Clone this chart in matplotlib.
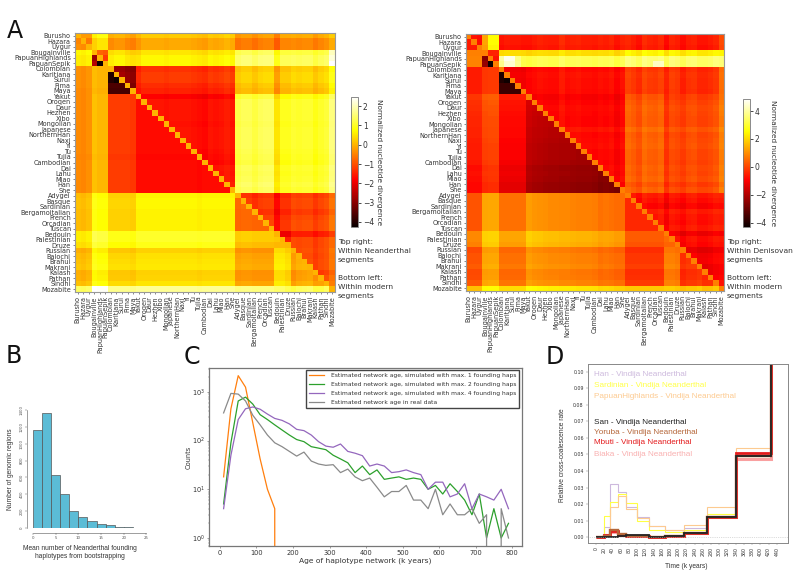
import numpy as np
import matplotlib
matplotlib.use('Agg')
import matplotlib.pyplot as plt

W, H = 800, 579

pops = ['Burusho', 'Hazara', 'Uygur', 'Bougainville', 'PapuanHighlands', 'PapuanSepik',
        'Colombian', 'Karitiana', 'Surui', 'Pima', 'Maya', 'Yakut', 'Oroqen', 'Daur', 'Hezhen',
        'Xibo', 'Mongolian', 'Japanese', 'NorthernHan', 'Naxi', 'Yi', 'Tu', 'Tujia', 'Cambodian',
        'Dai', 'Lahu', 'Miao', 'Han', 'She', 'Adygei', 'Basque', 'Sardinian', 'Bergamoitalian',
        'French', 'Orcadian', 'Tuscan', 'Bedouin', 'Palestinian', 'Druze', 'Russian', 'Balochi',
        'Brahui', 'Makrani', 'Kalash', 'Pathan', 'Sindhi', 'Mozabite']
group_sizes = [3, 3, 5, 18, 7, 3, 7, 1]

nean_upper = [[-0.4, 0.5, -0.3, -0.1, -0.5, -0.4, -0.4, -0.2],
              [0, -1.0, 0.5, 0.5, 1.4, 1.2, 1.2, 1.9],
              [0, 0, -2.9, -1.4, 0.2, 0.1, 0.2, 0.6],
              [0, 0, 0, -1.8, 1.2, 0.8, 0.9, 1.3],
              [0, 0, 0, 0, -1.3, -1.4, -1.2, -0.9],
              [0, 0, 0, 0, 0, -1.6, -1.2, -1.0],
              [0, 0, 0, 0, 0, 0, -1.2, -0.9],
              [0, 0, 0, 0, 0, 0, 0, 0]]
nean_lower = [[-0.4, 0, 0, 0, 0, 0, 0, 0],
              [0.6, -2.7, 0, 0, 0, 0, 0, 0],
              [-0.35, 0.0, -3.6, 0, 0, 0, 0, 0],
              [-0.45, 0.0, -1.25, -1.8, 0, 0, 0, 0],
              [0.1, 0.75, 0.3, 0.6, -0.8, 0, 0, 0],
              [0.45, 1.05, 0.75, 0.85, 0.1, -0.1, 0, 0],
              [0.1, 0.75, 0.35, 0.4, -0.2, 0.4, -0.1, 0],
              [1.4, 2.4, 1.7, 1.7, 1.6, 1.3, 1.35, 0]]
nean_pop_upper = [0.25, -0.1, -0.1, -0.1, 0.1, 0.1, 0, 0.1, 0.1, -0.05, -0.15, -0.1, 0.1, 0.1, 0.1,
                  0.1, 0.05, 0.1, 0.1, 0.1, 0.1, 0.05, 0, -0.05, 0.1, 0.05, 0.1, 0.2, 0.1, -0.05,
                  0.05, 0.05, -0.1, 0.05, 0.1, 0.1, -0.4, 0.05, 0.05, 0.1, 0.05, 0.1, 0.1, -0.1,
                  0.05, 0.15, 0.2]
nean_pop_lower = [0, -0.05, 0.05, 0.1, 0, 0, 0, 0, 0, 0, -0.05, 0.05, 0.05, 0.05, 0.05, 0.05, 0.05,
                  0.05, 0.05, 0.05, 0.05, 0.05, 0, 0.05, 0.05, 0.05, 0.05, 0.05, 0.05, 0, 0.05,
                  0.05, 0, 0, 0, 0, 0.15, 0.15, 0, -0.15, 0, 0.05, 0.1, -0.15, -0.12, 0.05, 0]
nean_diag = 0.0
nean_cells = {('Bougainville', 'PapuanHighlands'): -0.8, ('Bougainville', 'PapuanSepik'): -0.9,
              ('PapuanHighlands', 'PapuanSepik'): -1.2, ('PapuanHighlands', 'Bougainville'): -2.8,
              ('PapuanSepik', 'Bougainville'): -2.5, ('PapuanSepik', 'PapuanHighlands'): -4.2,
              ('Karitiana', 'Colombian'): -4.0, ('Surui', 'Colombian'): -4.0, ('Surui', 'Karitiana'): -4.2,
              ('PapuanSepik', 'Mozabite'): 2.45}

deni_upper = [[-0.7, 2.0, -0.7, -0.6, -0.6, -0.6, -0.6, -0.2],
              [0, -1.0, 2.7, 2.7, 3.0, 3.0, 3.0, 2.8],
              [0, 0, -1.2, -0.9, -0.3, -0.3, -0.4, 0.2],
              [0, 0, 0, -1.0, 0.2, -0.1, 0.0, 0.4],
              [0, 0, 0, 0, -0.9, -0.9, -0.8, -1.0],
              [0, 0, 0, 0, 0, -0.9, -0.9, -1.1],
              [0, 0, 0, 0, 0, 0, -1.1, -1.2],
              [0, 0, 0, 0, 0, 0, 0, 0]]
deni_lower = [[-0.6, 0, 0, 0, 0, 0, 0, 0],
              [0.8, -2.7, 0, 0, 0, 0, 0, 0],
              [-0.6, -0.2, -3.6, 0, 0, 0, 0, 0],
              [-0.6, -0.1, -1.0, -2.2, 0, 0, 0, 0],
              [0.2, 1.3, 0.6, 0.8, -0.4, 0, 0, 0],
              [0.8, 1.8, 1.2, 1.4, 0.2, 0.3, 0, 0],
              [0.2, 1.3, 0.6, 0.8, -0.2, 0.7, -0.2, 0],
              [1.7, 2.5, 2.1, 2.2, 1.8, 1.8, 1.8, 0]]
deni_pop_upper = [0, 0, -0.1, -0.7, 0.5, 0.5, 0, 0.1, 0.05, 0.05, 0, -0.1, 0, 0.1, 0.05, 0, 0, 0.25,
                  0.05, 0.1, 0.15, 0.05, 0.05, 0, 0.1, 0.05, 0.15, -0.1, 0.1, 0.2, 0.05, -0.15, 0.25, 0.1,
                  0.05, 0.2, -0.25, 0.15, 0.05, -0.2, 0.05, 0.1, -0.1, -0.1, 0, 0.15, 0.3]
deni_pop_lower = [0, 0, 0, 0, 0.05, 0.05, 0, 0, 0, 0, 0, 0.4, 0.3, 0.25, 0.2, 0.15, 0.15, 0.1, 0.1,
                  0.05, 0, 0, 0, -0.05, -0.2, -0.15, -0.2, -0.3, -0.3, 0, 0, 0, 0, 0, 0, 0, 0.1,
                  0.1, 0, -0.15, 0, 0, 0.1, -0.15, -0.12, 0.05, 0]
deni_diag = 0.8
deni_cells = {('Bougainville', 'PapuanHighlands'): -0.5, ('Bougainville', 'PapuanSepik'): -0.5,
              ('PapuanHighlands', 'PapuanSepik'): -0.7, ('PapuanHighlands', 'Bougainville'): -2.6,
              ('PapuanSepik', 'Bougainville'): -2.4, ('PapuanSepik', 'PapuanHighlands'): -4.2,
              ('Karitiana', 'Colombian'): -4.0, ('Surui', 'Colombian'): -4.0, ('Surui', 'Karitiana'): -4.2,
              ('PapuanHighlands', 'Colombian'): 4.0, ('PapuanHighlands', 'Karitiana'): 4.7,
              ('PapuanHighlands', 'Surui'): 4.6, ('PapuanHighlands', 'Pima'): 3.7,
              ('PapuanSepik', 'Colombian'): 3.8, ('PapuanSepik', 'Karitiana'): 4.4,
              ('PapuanSepik', 'Surui'): 4.4, ('PapuanSepik', 'Pima'): 3.8,
              ('PapuanSepik', 'Orcadian'): 4.3, ('PapuanSepik', 'Tuscan'): 4.3}

# panel B
hist_edges = [0, 2, 4, 6, 8, 10, 12, 14, 16, 18, 20, 22, 24, 26]
hist_counts = [1163, 1368, 625, 400, 198, 130, 83, 51, 40, 16, 8, 4, 2]

# panel C
age_mid = [10, 30, 50, 70, 90, 110, 130, 150, 170, 190, 210, 230, 250, 270, 290, 310, 330, 350, 370, 390,
           410, 430, 450, 470, 490, 510, 530, 550, 570, 590, 610, 630, 650, 670, 690, 710, 730, 750, 770, 790]
sim1_counts = [18, 450, 2150, 1250, 230, 42, 10, 4] + [0] * 32
sim2_counts = [5, 90, 650, 780, 560, 340, 270, 210, 165, 130, 105, 95, 75, 70, 65, 50, 42, 35, 22, 30,
               20, 25, 16, 17, 18, 16, 17, 16, 10, 12, 8, 13, 9, 6, 3, 8, 1, 4, 1, 2]
sim4_counts = [4, 50, 270, 450, 490, 440, 350, 285, 260, 220, 170, 160, 130, 95, 77, 73, 85, 60, 55, 49,
               30, 33, 30, 22, 23, 25, 22, 20, 10, 14, 14, 7, 8, 13, 4, 8, 7, 6, 10, 4]
real_counts = [370, 930, 900, 650, 330, 210, 130, 90, 75, 60, 48, 58, 38, 33, 31, 32, 22, 26, 18, 15,
               17, 11, 7, 9, 9, 12, 6, 6, 4, 10, 3, 5, 3, 3, 4, 2, 3, 0, 4, 1]

# panel D
time_edges = [0, 20, 33, 53, 74, 99, 130, 167, 213, 270, 340, 425]
han_rate = [0, 0.006, 0.032, 0.027, 0.018, 0.012, 0.0065, 0.004, 0.0055, 0.013, 0.050, 0.15]
sardinian_rate = [0, 0.013, 0.0215, 0.026, 0.0205, 0.010, 0.0045, 0.003, 0.0045, 0.014, 0.048, 0.15]
papuan_rate = [0, 0.002, 0.018, 0.025, 0.017, 0.0115, 0.0065, 0.0045, 0.007, 0.018, 0.054, 0.15]
san_rate = [0, 0, 0.0003, 0.0005, 0.0012, 0.0012, 0.0003, 0.0005, 0.0025, 0.012, 0.049, 0.15]
yoruba_rate = [0, 0.0005, 0.004, 0.002, 0.0008, 0.0005, 0.0003, 0.0005, 0.0025, 0.012, 0.049, 0.15]
mbuti_rate = [0, 0.001, 0.0035, 0.0015, 0.0005, 0.0005, 0.0003, 0.0005, 0.0025, 0.012, 0.051, 0.15]
biaka_rate = [0, 0.001, 0.003, 0.001, 0.0005, 0.0004, 0.0003, 0.0005, 0.0025, 0.012, 0.047, 0.15]

DARK = '#333333'


def axes_px(fig, left, top, right, bottom):
    return fig.add_axes([left / W, 1 - bottom / H, (right - left) / W, (bottom - top) / H])


def text_px(fig, x, y, s, **kw):
    kw.setdefault('va', 'center')
    return fig.text(x / W, 1 - y / H, s, **kw)


def build_matrix(upper, lower, pop_upper, pop_lower, diag, cells):
    groups = np.repeat(np.arange(len(group_sizes)), group_sizes)
    n = len(pops)
    m = np.zeros((n, n))
    for i in range(n):
        for j in range(n):
            if i == j:
                m[i, j] = diag
            elif i < j:
                m[i, j] = upper[groups[i]][groups[j]] + pop_upper[i] + pop_upper[j]
            else:
                m[i, j] = lower[groups[i]][groups[j]] + pop_lower[i] + pop_lower[j]
    for (a, b), v in cells.items():
        m[pops.index(a), pops.index(b)] = v
    return m


def plot_heatmap(fig, box, cbox, mat, vmin, vmax, cticks, label_x, note_x, kind):
    ax = axes_px(fig, *box)
    im = ax.imshow(mat, cmap='hot', vmin=vmin, vmax=vmax, aspect='auto', interpolation='nearest')
    ax.set_xticks(range(len(pops)))
    ax.set_yticks(range(len(pops)))
    ax.set_xticklabels(pops, rotation=90, fontsize=4.7, color=DARK)
    ax.set_yticklabels(pops, fontsize=4.7, color=DARK)
    ax.tick_params(length=1.5, width=0.4, pad=1.5, color=DARK)
    for s in ax.spines.values():
        s.set_color('#999999')
        s.set_linewidth(0.8)

    cax = axes_px(fig, *cbox)
    cb = fig.colorbar(im, cax=cax)
    cb.set_ticks(cticks)
    cb.ax.tick_params(labelsize=5.5, length=2, width=0.5, pad=1.5, labelcolor=DARK)
    cb.outline.set_linewidth(0.6)
    cb.outline.set_edgecolor('#777777')
    text_px(fig, label_x, (cbox[1] + cbox[3]) / 2, 'Normalized nucleotide divergence', rotation=270,
            ha='center', fontsize=5.3, color=DARK)

    for y, s in zip([242, 251, 260, 278, 287, 296],
                    ['Top right:', f'Within {kind}', 'segments', 'Bottom left:', 'Within modern', 'segments']):
        text_px(fig, note_x, y, s, fontsize=5.4, color=DARK)


def plot_hist(fig):
    ax = axes_px(fig, 33, 410, 151, 528)
    ax.bar(hist_edges[:-1], hist_counts, width=2, align='edge', color='#5bbcd6', edgecolor='#555555', linewidth=0.5)
    ax.set_xlim(0, 26)
    ax.set_ylim(0, 1400)
    for s in ['top', 'right']:
        ax.spines[s].set_visible(False)
    ax.spines['left'].set_position(('outward', 4))
    ax.spines['bottom'].set_position(('outward', 3.5))
    ax.spines['left'].set_bounds(0, 1400)
    ax.spines['bottom'].set_bounds(0, 25)
    for s in ['left', 'bottom']:
        ax.spines[s].set_linewidth(0.4)
        ax.spines[s].set_color('#555555')
    ax.set_xticks([0, 5, 10, 15, 20, 25])
    ax.set_yticks(range(0, 1401, 200))
    ax.tick_params(labelsize=2.8, length=1.5, width=0.3, pad=1, colors='#555555')
    ax.tick_params(axis='y', labelrotation=90)
    for t in ax.get_yticklabels():
        t.set_va('center')
    text_px(fig, 11, 469, 'Number of genomic regions', rotation=90, ha='center', fontsize=4.8,
            family='Liberation Sans', color=DARK)
    text_px(fig, 80, 549, 'Mean number of Neanderthal founding', ha='center', fontsize=4.8,
            family='Liberation Sans', color=DARK)
    text_px(fig, 80, 557, 'haplotypes from bootstrapping', ha='center', fontsize=4.8,
            family='Liberation Sans', color=DARK)


def plot_ages(fig):
    ax = axes_px(fig, 209, 368, 522, 546)
    ax.plot(age_mid, sim1_counts, color='#ff7f0e', lw=0.9, label='Estimated network age, simulated with max. 1 founding haps')
    ax.plot(age_mid, sim2_counts, color='#2ca02c', lw=0.9, label='Estimated network age, simulated with max. 2 founding haps')
    ax.plot(age_mid, sim4_counts, color='#9467bd', lw=0.9, label='Estimated network age, simulated with max. 4 founding haps')
    ax.plot(age_mid, real_counts, color='#8a8a8a', lw=0.9, label='Estimated network age in real data')
    ax.set_yscale('log')
    ax.set_xlim(-30, 827)
    ax.set_ylim(0.685, 3090)
    ax.set_xticks(range(0, 801, 100))
    ax.tick_params(labelsize=4.8, length=1.5, width=0.4, pad=1.5, labelcolor=DARK, color='#555555')
    ax.tick_params(which='minor', length=1, width=0.3, color='#555555')
    ax.set_xlabel('Age of haplotype network (k years)', fontsize=5.4, labelpad=1, color=DARK)
    ax.set_ylabel('Counts', fontsize=4.8, labelpad=0, color=DARK)
    for s in ax.spines.values():
        s.set_color('#777777')
        s.set_linewidth(0.9)
    ax.legend(loc='upper right', bbox_to_anchor=(310 / 313, 1 - 2 / 178), borderaxespad=0, fancybox=False,
              framealpha=1, edgecolor='#444444', fontsize=4.3, labelcolor=DARK, borderpad=0.5, labelspacing=0.65,
              handlelength=2.6, handletextpad=1.1)


def plot_rates(fig):
    ax = axes_px(fig, 588, 364, 788, 543)
    edges = time_edges + [470]
    ax.axhline(0, color='#bbbbbb', lw=0.5, ls=':')
    series = [(han_rate, '#cdb9dd', 0.8), (sardinian_rate, '#ffff44', 0.8), (papuan_rate, '#fdca90', 0.8),
              (biaka_rate, '#f9a0a0', 2.2), (mbuti_rate, '#e41a1c', 2.0), (yoruba_rate, '#b5673a', 1.7),
              (san_rate, '#222222', 1.3)]
    for rate, color, lw in series:
        ax.stairs(rate, edges, color=color, lw=lw, baseline=None)
    ax.set_xlim(-19.5, 467)
    ax.set_ylim(-0.0036, 0.1048)
    ax.set_xticks(range(0, 441, 20))
    ax.set_yticks(np.arange(0, 0.101, 0.01))
    ax.set_yticklabels([f'{v:.2f}' for v in np.arange(0, 0.101, 0.01)])
    ax.tick_params(labelsize=3.4, length=1.5, width=0.3, pad=1.5, color='#777777', labelcolor=DARK)
    ax.tick_params(axis='x', labelrotation=90)
    for s in ax.spines.values():
        s.set_color('#888888')
        s.set_linewidth(0.7)
    text_px(fig, 686, 567, 'Time (k years)', ha='center', fontsize=4.8, family='Liberation Sans', color=DARK)
    text_px(fig, 563, 455, 'Relative cross-coalescence rate', rotation=90, ha='center', fontsize=4.8,
            family='Liberation Sans', color=DARK)
    names = [(374, 'Han', '#cdb9dd'), (385.5, 'Sardinian', '#ffff44'), (396, 'PapuanHighlands', '#fdca90'),
             (422, 'San', '#222222'), (432, 'Yoruba', '#b5673a'), (443, 'Mbuti', '#e41a1c'), (454, 'Biaka', '#f9b0b0')]
    for y, name, color in names:
        text_px(fig, 594, y, f'{name} - Vindija Neanderthal', fontsize=5.9, family='Liberation Sans', color=color)


def main():
    fig = plt.figure(figsize=(W / 100, H / 100), dpi=100)

    nean = build_matrix(nean_upper, nean_lower, nean_pop_upper, nean_pop_lower, nean_diag, nean_cells)
    deni = build_matrix(deni_upper, deni_lower, deni_pop_upper, deni_pop_lower, deni_diag, deni_cells)
    plot_heatmap(fig, (75, 33, 335, 292), (351, 97, 358, 227), nean, -4.26, 2.47, [-4, -3, -2, -1, 0, 1, 2], 379, 338, 'Neanderthal')
    plot_heatmap(fig, (466, 34, 724, 291), (743, 99, 750, 227), deni, -4.3, 4.86, [-4, -2, 0, 2, 4], 773, 727, 'Denisovan')

    plot_hist(fig)
    plot_ages(fig)
    plot_rates(fig)

    for x, y, s in [(7, 31, 'A'), (6, 356, 'B'), (184, 357, 'C'), (546, 357, 'D')]:
        text_px(fig, x, y, s, fontsize=17, color='#111111')

    fig.savefig('out.png', dpi=100)


if __name__ == "__main__":
    main()
